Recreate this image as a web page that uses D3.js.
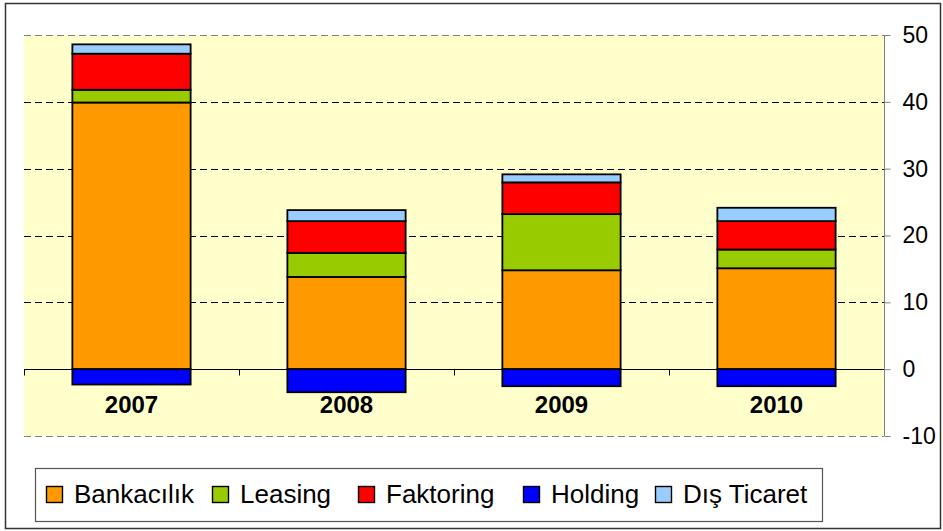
<!DOCTYPE html>
<html>
<head>
<meta charset="utf-8">
<script src="https://cdn.jsdelivr.net/npm/d3@7"></script>
<style>
  body { margin: 0; background: #fff; }
  svg { display: block; font-family: 'Liberation Sans', Arial, sans-serif; }
</style>
</head>
<body>
<div id="chart"></div>
<script>
const years = ['2007', '2008', '2009', '2010'];
const seriesNames = ['Bankacılık', 'Leasing', 'Faktoring', 'Holding', 'Dış Ticaret'];
const seriesColors = ['#FF9900', '#99CC00', '#FF0000', '#0000FF', '#99CCFF'];
const bankacilik = [39.9, 13.8, 14.8, 15.1];
const leasing = [1.9, 3.6, 8.4, 2.8];
const faktoring = [5.4, 4.75, 4.75, 4.25];
const holding = [-2.3, -3.45, -2.55, -2.55];
const disTicaret = [1.4, 1.65, 1.2, 2.0];
const yTicks = [-10, 0, 10, 20, 30, 40, 50];

const width = 943;
const height = 531;
const plot = { left: 24, right: 884, top: 35, bottom: 436 };
// legend swatch x positions
const legendX = [46, 212, 358, 523, 655];

const columns = [bankacilik, leasing, faktoring, holding, disTicaret];
const rows = years.map((year, i) => {
  let row = { year: year };
  seriesNames.forEach((name, j) => { row[name] = columns[j][i]; });
  return row;
});

const stacked = d3.stack()
  .keys(seriesNames)
  .offset(d3.stackOffsetDiverging)(rows);

const svg = d3.select('#chart').append('svg')
  .attr('width', width)
  .attr('height', height);

// outer chart frame
svg.append('rect')
  .attr('x', 5.5).attr('y', 3.5)
  .attr('width', 935).attr('height', 525)
  .attr('fill', '#fff')
  .attr('stroke', '#333')
  .attr('stroke-width', 1.5);

const x = d3.scaleBand()
  .domain(years)
  .range([plot.left, plot.right])
  .paddingInner(0.45)
  .paddingOuter(0.225);

const y = d3.scaleLinear()
  .domain([-10, 50])
  .range([plot.bottom, plot.top]);

// plot area
svg.append('rect')
  .attr('x', plot.left).attr('y', plot.top)
  .attr('width', plot.right - plot.left)
  .attr('height', plot.bottom - plot.top)
  .attr('fill', '#FFFFCC');

svg.append('g')
  .selectAll('line')
  .data(yTicks.filter(t => t !== 0))
  .enter()
  .append('line')
  .attr('x1', plot.left)
  .attr('x2', plot.right)
  .attr('y1', d => Math.round(y(d)) + 0.5)
  .attr('y2', d => Math.round(y(d)) + 0.5)
  .attr('stroke', d => (d === 50 || d === -10) ? '#808080' : '#000')
  .attr('stroke-dasharray', '7,4');

// bars
svg.append('g')
  .selectAll('g')
  .data(stacked)
  .enter()
  .append('g')
  .attr('fill', (d, i) => seriesColors[i])
  .selectAll('rect')
  .data(d => d)
  .enter()
  .append('rect')
  .attr('x', d => x(d.data.year))
  .attr('width', x.bandwidth())
  .attr('y', d => y(Math.max(d[0], d[1])))
  .attr('height', d => Math.abs(y(d[0]) - y(d[1])))
  .attr('stroke', '#000')
  .attr('stroke-width', 1.8);

// zero line and category ticks
const zeroY = Math.round(y(0)) + 0.5;
svg.append('line')
  .attr('x1', plot.left).attr('x2', plot.right)
  .attr('y1', zeroY).attr('y2', zeroY)
  .attr('stroke', '#000');

svg.append('g')
  .selectAll('line')
  .data(years)
  .enter()
  .append('line')
  .attr('x1', d => Math.round(x(d) - x.step() * x.paddingInner() / 2) + 0.5)
  .attr('x2', d => Math.round(x(d) - x.step() * x.paddingInner() / 2) + 0.5)
  .attr('y1', zeroY)
  .attr('y2', zeroY + 6)
  .attr('stroke', '#000');

svg.append('g')
  .selectAll('text')
  .data(years)
  .enter()
  .append('text')
  .attr('x', d => x(d) + x.bandwidth() / 2)
  .attr('y', 413)
  .attr('text-anchor', 'middle')
  .style('font-size', '24px')
  .style('font-weight', 'bold')
  .text(d => d);

// right value axis
const yAxis = svg.append('g')
  .attr('transform', 'translate(' + (plot.right + 0.5) + ',0)')
  .call(d3.axisRight(y).tickValues(yTicks).tickSize(6).tickPadding(12).tickFormat(d => String(d)));

yAxis.select('.domain').attr('stroke', '#808080').attr('d', 'M0,' + plot.top + 'V' + plot.bottom);
yAxis.selectAll('line').attr('stroke', '#808080');
yAxis.selectAll('text')
  .attr('fill', '#000')
  .style('font-size', '23px')
  .style('font-family', "'Liberation Sans', Arial, sans-serif");

// legend
const legend = svg.append('g');
legend.append('rect')
  .attr('x', 35.5).attr('y', 468.5)
  .attr('width', 787).attr('height', 53)
  .attr('fill', '#fff')
  .attr('stroke', '#555')
  .attr('stroke-width', 1.2);

const items = legend.selectAll('g.item')
  .data(seriesNames)
  .enter()
  .append('g')
  .attr('class', 'item')
  .attr('transform', (d, i) => 'translate(' + legendX[i] + ',0)');

items.append('rect')
  .attr('x', 0.5).attr('y', 486.5)
  .attr('width', 16).attr('height', 16)
  .attr('fill', (d, i) => seriesColors[i])
  .attr('stroke', '#000')
  .attr('stroke-width', 1.4);

items.append('text')
  .attr('x', 28)
  .attr('y', 503)
  .style('font-size', '26px')
  .text(d => d);
</script>
</body>
</html>
